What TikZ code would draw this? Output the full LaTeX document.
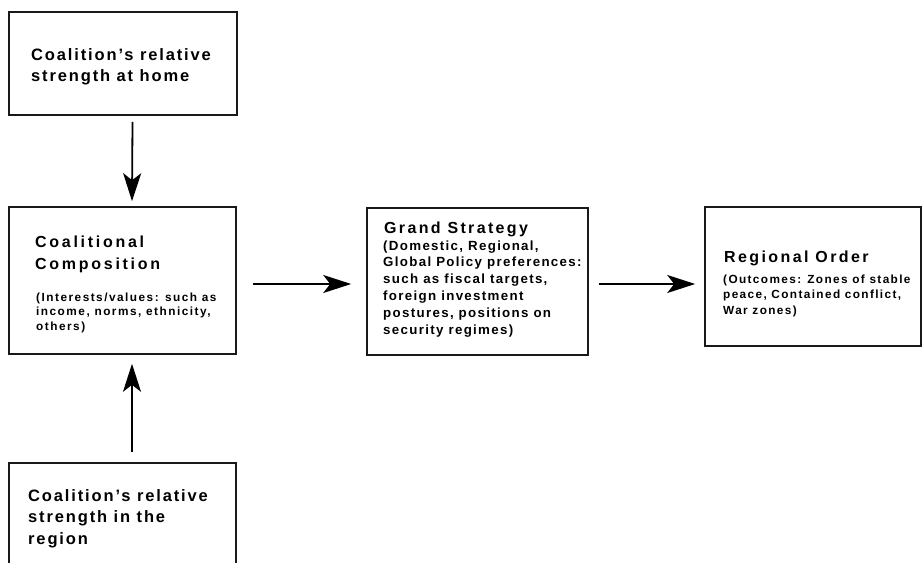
\documentclass[tikz,border=0pt]{standalone}
\usepackage{fontspec}
\setmainfont{Liberation Sans}
\usetikzlibrary{arrows.meta}
\tikzset{
  box/.style={draw=black!90, line width=1.6pt, inner sep=0pt, fill=none},
  arr/.style={line width=1.8pt, draw=black, -{Stealth[length=28pt,width=18pt,inset=7pt]}},
  txt/.style={anchor=base west, align=left, inner sep=0pt},
  fnt/.style n args={3}{font=\bfseries\fontsize{#1}{#2}\selectfont\addfontfeature{LetterSpace=#3}},
}
\begin{document}
\begin{tikzpicture}[x=1pt,y=-1pt]
\useasboundingbox (0,0) rectangle (923,562);
\fill[white] (0,0) rectangle (923,562);
% boxes
\node[box, minimum width=228pt, minimum height=103pt] (home) at (123,63.5) {};
\node[box, minimum width=227pt, minimum height=147pt] (comp) at (122.5,280.5) {};
\node[box, minimum width=221pt, minimum height=147pt] (strat) at (477.5,281.5) {};
\node[box, minimum width=216pt, minimum height=139pt] (order) at (813,276.5) {};
\node[box, minimum width=227pt, minimum height=140pt] (region) at (122.5,533) {};
% texts
\node[txt, fnt={16.5}{21.5}{11.3}] (thome) at (31,81.5) {Coalition’s relative\\strength at home};
\node[txt, fnt={16}{22}{17}] (tcomp) at (35,269) {Coalitional\\Composition};
\node[txt, fnt={11.8}{14.3}{12.7}] (bcomp) at (36,330) {(Interests/values: such as\\income, norms, ethnicity,\\others)};
\node[txt, fnt={16}{17}{14.7}] (tstrat) at (384,233) {Grand Strategy};
\node[txt, fnt={13.3}{16.8}{10}] (bstrat) at (383,334) {(Domestic, Regional,\\Global Policy preferences:\\such as fiscal targets,\\foreign investment\\postures, positions on\\security regimes)};
\node[txt, fnt={16}{17}{15}] (torder) at (724,262) {Regional Order};
\node[txt, fnt={11.8}{15.5}{11.7}] (border) at (723,314) {(Outcomes: Zones of stable\\peace, Contained conflict,\\War zones)};
\node[txt, fnt={16.5}{21.5}{11.3}] (tregion) at (28,544) {Coalition’s relative\\strength in the\\region};
% connectors
\draw[arr] ([xshift=9.5pt,yshift=-6pt]home.south) -- ([xshift=9.5pt,yshift=5pt]comp.north);
\draw[arr] ([xshift=9.5pt,yshift=10pt]region.north) -- ([xshift=9.5pt,yshift=-9pt]comp.south);
\draw[arr] ([xshift=16pt]comp.east |- 0,284) -- ([xshift=-15pt]strat.west |- 0,284);
\draw[arr] ([xshift=10pt]strat.east |- 0,284) -- ([xshift=-9pt]order.west |- 0,284);
\end{tikzpicture}
\end{document}
